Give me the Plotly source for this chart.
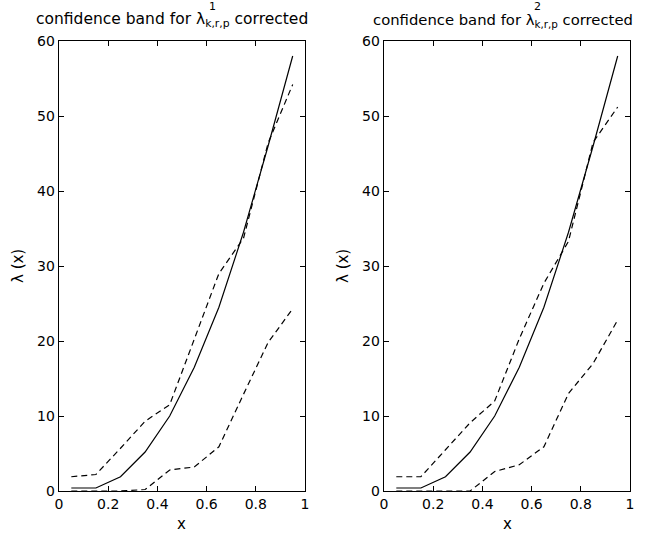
import plotly.graph_objects as go

W, H = 646, 535

x_vals = [0.05, 0.15, 0.25, 0.35, 0.45, 0.55, 0.65, 0.75, 0.85, 0.95]
true_vals = [0.4, 0.4, 1.9, 5.2, 10.0, 16.5, 24.5, 34.5, 46.0, 58.0]
left_upper = [1.9, 2.2, 5.7, 9.3, 11.5, 20.3, 29.0, 33.7, 46.4, 54.2]
left_lower = [0.0, 0.0, 0.0, 0.2, 2.8, 3.2, 5.9, 12.9, 19.8, 24.3]
right_upper = [1.9, 1.9, 5.5, 9.1, 12.0, 20.3, 27.7, 33.3, 46.5, 51.2]
right_lower = [0.0, 0.0, 0.0, 0.0, 2.6, 3.5, 5.9, 13.0, 17.0, 22.8]

x_ticks = [0, 0.2, 0.4, 0.6, 0.8, 1]
x_tick_text = ["0", "0.2", "0.4", "0.6", "0.8", "1"]
y_ticks = [0, 10, 20, 30, 40, 50, 60]
y_tick_text = ["0", "10", "20", "30", "40", "50", "60"]

FONT = "DejaVu Sans"
DASH = "6px,4px"

fig = go.Figure()

panels = [
    ("x", "y", left_upper, left_lower),
    ("x2", "y2", right_upper, right_lower),
]
for xa, ya, up, lo in panels:
    fig.add_trace(go.Scatter(x=x_vals, y=true_vals, mode="lines", xaxis=xa, yaxis=ya,
                             line=dict(color="black", width=1.2), showlegend=False))
    fig.add_trace(go.Scatter(x=x_vals, y=up, mode="lines", xaxis=xa, yaxis=ya,
                             line=dict(color="black", width=1.2, dash=DASH), showlegend=False))
    fig.add_trace(go.Scatter(x=x_vals, y=lo, mode="lines", xaxis=xa, yaxis=ya,
                             line=dict(color="black", width=1.2, dash=DASH), showlegend=False,
                             cliponaxis=False))

def px_x(p):
    return p / W

def px_y(p):
    return 1 - p / H

axis_common = dict(showline=True, linecolor="black", linewidth=1.3, mirror="ticks",
                   ticks="inside", ticklen=5, tickwidth=1, tickcolor="black",
                   showgrid=False, zeroline=False, automargin=False,
                   tickfont=dict(family=FONT, size=14, color="black"))

ydom = [px_y(491), px_y(41)]
fig.update_layout(
    width=W, height=H,
    margin=dict(l=0, r=0, t=0, b=0, pad=0, autoexpand=False),
    paper_bgcolor="white", plot_bgcolor="white",
    xaxis=dict(domain=[px_x(59), px_x(305)], range=[0, 1], tickvals=x_ticks,
               ticktext=x_tick_text, anchor="y", **axis_common),
    yaxis=dict(domain=ydom, range=[0, 60], tickvals=y_ticks, ticktext=y_tick_text,
               anchor="x", **axis_common),
    xaxis2=dict(domain=[px_x(384), px_x(630)], range=[0, 1], tickvals=x_ticks,
                ticktext=x_tick_text, anchor="y2", **axis_common),
    yaxis2=dict(domain=ydom, range=[0, 60], tickvals=y_ticks, ticktext=y_tick_text,
                anchor="x2", **axis_common),
)

ann = []
titles = [(35, 213, "1", 15.5), (372, 537, "2", 14.8)]
for tx, supx, sup, fs in titles:
    ann.append(dict(text="confidence band for λ<sub>k,r,p</sub> corrected",
                    x=px_x(tx), y=px_y(20), xref="paper", yref="paper",
                    xanchor="left", yanchor="middle", showarrow=False, borderpad=0,
                    font=dict(family=FONT, size=fs, color="black")))
    ann.append(dict(text=sup, x=px_x(supx), y=px_y(6.5), xref="paper", yref="paper",
                    xanchor="center", yanchor="middle", showarrow=False, borderpad=0,
                    font=dict(family=FONT, size=11, color="black")))

for cx in (182, 507):
    ann.append(dict(text="x", x=px_x(cx), y=px_y(524), xref="paper", yref="paper",
                    xanchor="center", yanchor="middle", showarrow=False, borderpad=0,
                    font=dict(family=FONT, size=15, color="black")))
for cx in (18, 343):
    ann.append(dict(text="λ (x)", x=px_x(cx), y=px_y(266), xref="paper", yref="paper",
                    xanchor="center", yanchor="middle", showarrow=False, borderpad=0,
                    textangle=-90, font=dict(family=FONT, size=15, color="black")))

fig.update_layout(annotations=ann)
fig.write_html("out.html",
               config={"displayModeBar": False, "staticPlot": True},
               post_script="document.body.style.margin='0';document.body.style.overflow='hidden';")
